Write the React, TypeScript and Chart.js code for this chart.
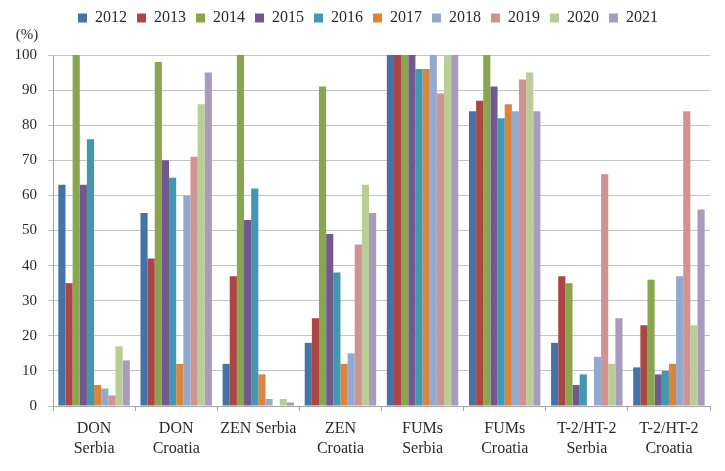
import React, { useEffect, useRef } from "react";
import { Chart, registerables } from "chart.js";

Chart.register(...registerables);

const categories: (string | string[])[] = [
  ["DON", "Serbia"],
  ["DON", "Croatia"],
  "ZEN Serbia",
  ["ZEN", "Croatia"],
  ["FUMs", "Serbia"],
  ["FUMs", "Croatia"],
  ["T-2/HT-2", "Serbia"],
  ["T-2/HT-2", "Croatia"],
];

const years = ["2012", "2013", "2014", "2015", "2016", "2017", "2018", "2019", "2020", "2021"];

const v2012 = [63, 55, 12, 18, 100, 84, 18, 11];
const v2013 = [35, 42, 37, 25, 100, 87, 37, 23];
const v2014 = [100, 98, 100, 91, 100, 100, 35, 36];
const v2015 = [63, 70, 53, 49, 100, 91, 6, 9];
const v2016 = [76, 65, 62, 38, 96, 82, 9, 10];
const v2017 = [6, 12, 9, 12, 96, 86, 0, 12];
const v2018 = [5, 60, 2, 15, 100, 84, 14, 37];
const v2019 = [3, 71, 0, 46, 89, 93, 66, 84];
const v2020 = [17, 86, 2, 63, 100, 95, 12, 23];
const v2021 = [13, 95, 1, 55, 100, 84, 25, 56];

const seriesValues = [v2012, v2013, v2014, v2015, v2016, v2017, v2018, v2019, v2020, v2021];

const colors = [
  "#4572A7", "#AA4643", "#89A54E", "#71588F", "#4198AF",
  "#DB843D", "#93A9CF", "#D19392", "#B9CD96", "#A99BBD",
];

const yTicks = [0, 10, 20, 30, 40, 50, 60, 70, 80, 90, 100];
const yUnit = "(%)";

const FONT = "'Liberation Serif', 'Times New Roman', serif";
const TEXT = "#2a2a2a";

const unitPlugin = {
  id: "unitLabel",
  afterLayout(chart: any) {
    const lg = chart.legend;
    if (lg) {
      lg.left += 13;
      lg.right += 13;
    }
  },
  afterDraw(chart: any) {
    const ctx = chart.ctx;
    ctx.save();
    ctx.font = `15px ${FONT}`;
    ctx.fillStyle = TEXT;
    ctx.textAlign = "center";
    ctx.textBaseline = "middle";
    ctx.fillText(yUnit, 27, 35);
    ctx.restore();
  },
};

export default function App() {
  const ref = useRef<HTMLCanvasElement | null>(null);

  useEffect(() => {
    if (!ref.current) return;
    const chart = new Chart(ref.current, {
      type: "bar",
      data: {
        labels: categories,
        datasets: years.map((y, i) => ({
          label: y,
          data: seriesValues[i],
          backgroundColor: colors[i],
          borderWidth: 0,
          xAxisID: "x",
          yAxisID: "y",
          categoryPercentage: 0.87,
          barPercentage: 1.0,
        })),
      },
      options: {
        responsive: false,
        animation: false,
        layout: { padding: { left: 0, right: 15, top: 0, bottom: 0 } },
        plugins: {
          legend: {
            display: true,
            position: "top",
            labels: {
              boxWidth: 9,
              boxHeight: 9,
              padding: 10,
              color: TEXT,
              font: { family: FONT, size: 16 },
            },
          },
          tooltip: { enabled: false },
          title: { display: false },
        },
        scales: {
          x: {
            type: "category",
            position: "bottom",
            offset: true,
            grid: {
              display: true,
              offset: true,
              drawOnChartArea: false,
              drawTicks: true,
              tickLength: 5,
              color: "#a6a6a6",
            },
            border: { display: true, color: "#a6a6a6", width: 1 },
            ticks: {
              color: TEXT,
              font: { family: FONT, size: 16, lineHeight: 1.3 },
              padding: 7,
              maxRotation: 0,
              autoSkip: false,
            },
            afterFit: (s: any) => {
              s.height = 65;
            },
          },
          y: {
            type: "linear",
            position: "left",
            min: 0,
            max: 100,
            grid: {
              color: "#c4c4c4",
              lineWidth: 1,
              tickLength: 5,
              drawTicks: true,
            },
            border: { display: true, color: "#a6a6a6", width: 1 },
            afterBuildTicks: (s: any) => {
              s.ticks = yTicks.map((v) => ({ value: v }));
            },
            ticks: {
              color: TEXT,
              font: { family: FONT, size: 15 },
              padding: 11,
            },
            afterFit: (s: any) => {
              s.width = 53;
            },
          },
          x2: {
            type: "linear",
            position: "top",
            display: true,
            grid: { display: false, drawTicks: false },
            border: { display: false },
            ticks: { display: false },
            afterFit: (s: any) => {
              s.height = 19;
            },
          },
        },
      },
      plugins: [unitPlugin],
    });
    return () => chart.destroy();
  }, []);

  return (
    <div style={{ position: "fixed", left: 0, top: 0, width: 725, height: 471, background: "#fff" }}>
      <canvas ref={ref} width={725} height={471} style={{ width: 725, height: 471, display: "block" }} />
    </div>
  );
}
